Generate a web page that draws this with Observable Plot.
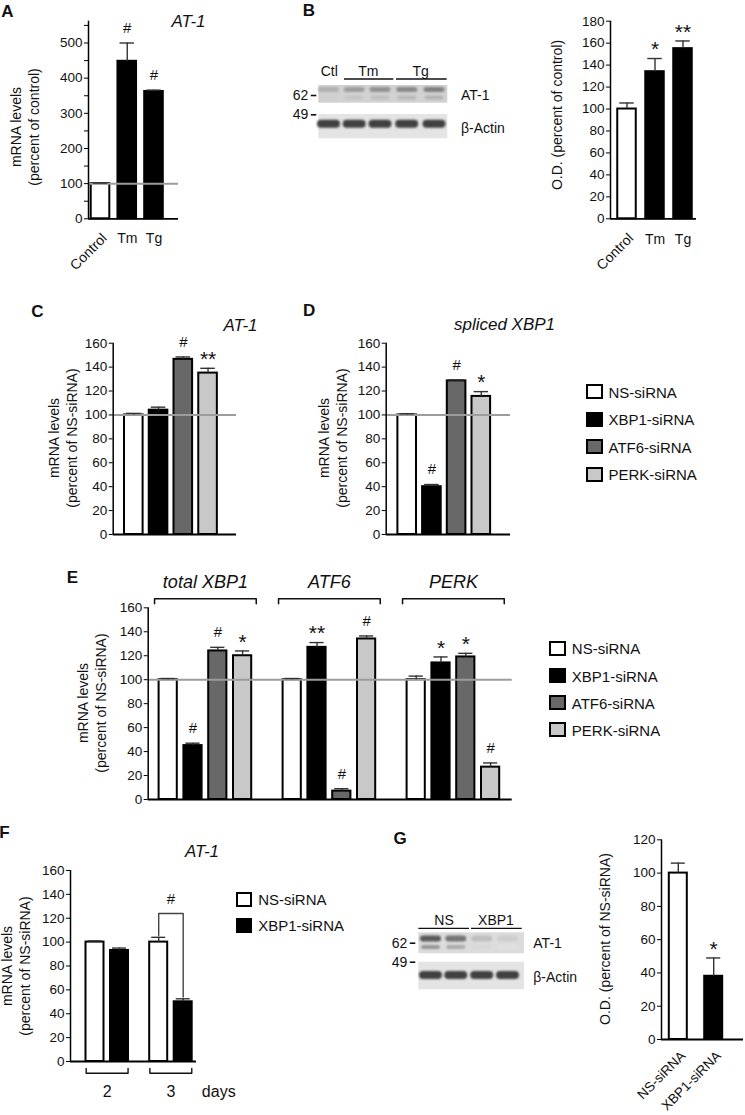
<!DOCTYPE html>
<html><head><meta charset="utf-8">
<script src="https://cdn.jsdelivr.net/npm/d3@7"></script>
<script src="https://cdn.jsdelivr.net/npm/@observablehq/plot@0.6"></script>
<style>
body{margin:0;background:#fff;}
#fig{position:relative;width:745px;height:1115px;overflow:hidden;background:#fff;font-family:"Liberation Sans",Arial,Helvetica,sans-serif;color:#111;}
.t{position:absolute;white-space:nowrap;line-height:1;}
.c{transform:translate(-50%,-50%);}
.yl{position:absolute;white-space:nowrap;text-align:center;font-size:14px;line-height:18px;transform:translate(-50%,-50%) rotate(-90deg);}
.letter{font-weight:bold;font-size:17px;}
.title{font-style:italic;font-size:17px;}
</style></head><body><div id="fig"></div>
<script>
// ================= DATA =================
const treatments = ["Control", "Tm", "Tg"];
const aValues = [100, 448, 362];
const aErrors = [1.5, 52, 4];
const aMarks = ["", "#", "#"];
const aTicks = [0, 50, 100, 150, 200, 250, 300, 350, 400, 450, 500, 550];
const aTickLabels = [0, 100, 200, 300, 400, 500];

const bValues = [100, 134, 155];
const bErrors = [5.5, 12, 7];
const bMarks = ["", "*", "**"];
const bTicks = [0, 20, 40, 60, 80, 100, 120, 140, 160, 180];

const siRNAs = ["NS-siRNA", "XBP1-siRNA", "ATF6-siRNA", "PERK-siRNA"];
const cValues = [100, 104, 146.5, 135];
const cErrors = [1.3, 2.5, 2, 4];
const cMarks = ["", "", "#", "**"];
const dValues = [100, 40, 128.5, 115.5];
const dErrors = [1, 1.8, 0.8, 4];
const dMarks = ["", "#", "#", "*"];
const siTicks = [0, 20, 40, 60, 80, 100, 120, 140, 160];

const eGenes = ["total XBP1", "ATF6", "PERK"];
const eValues = [[100, 45, 124, 120], [100, 127, 7, 134], [100, 114, 119, 27]];
const eErrors = [[1, 2, 3, 4], [1, 4, 2, 2.5], [3, 5, 3, 3.5]];
const eMarks = [["", "#", "#", "*"], ["", "**", "#", "#"], ["", "*", "*", "#"]];

const fDays = ["2", "3"];
const fSeries = ["NS-siRNA", "XBP1-siRNA"];
const fValues = [[100, 93], [100, 50]];
const fErrors = [[1, 2], [4, 2.5]];
const fSigDay = "3";
const fSigMark = "#";

const gCategories = ["NS-siRNA", "XBP1-siRNA"];
const gValues = [100, 38];
const gErrors = [6, 11];
const gMarks = ["", "*"];
const gTicks = [0, 20, 40, 60, 80, 100, 120];

const blotBGroups = ["Ctl", "Tm", "Tg"];
const blotBAT1 = [0.42, 0.48, 0.52, 0.55, 0.58];
const blotBActin = [0.8, 0.8, 0.8, 0.8, 0.8];
const blotGGroups = ["NS", "XBP1"];
const blotGAT1 = [0.72, 0.62, 0.36, 0.3];
const blotGActin = [0.8, 0.8, 0.8, 0.8];
const mwMarkers = ["62", "49"];
const blotProteins = ["AT-1", "β-Actin"];

// ================= STYLES =================
const W = 745, H = 1115;
const FONT = '"Liberation Sans", Arial, Helvetica, sans-serif';
const fillOf = {"NS-siRNA": "#ffffff", "XBP1-siRNA": "#000000", "ATF6-siRNA": "#686868", "PERK-siRNA": "#c8c8c8",
  "Control": "#ffffff", "Tm": "#000000", "Tg": "#000000"};
const fig = document.getElementById("fig");

function html(txt, x, y, cls, style = {}) {
  const d = document.createElement("div");
  d.className = "t " + cls;
  d.style.left = x + "px"; d.style.top = y + "px";
  Object.assign(d.style, style);
  d.innerHTML = txt;
  fig.appendChild(d);
  return d;
}
function yLabel(lines, cx, cy) {
  const d = document.createElement("div");
  d.className = "yl"; d.style.left = cx + "px"; d.style.top = cy + "px";
  d.innerHTML = lines.join("<br>");
  fig.appendChild(d);
}
function legend(items, x, y0, step) {
  items.forEach((name, i) => {
    const cy = y0 + i * step;
    const s = document.createElement("div");
    Object.assign(s.style, {position: "absolute", left: x + "px", top: (cy - 7.5) + "px", width: "16.7px", height: "15px",
      background: fillOf[name], border: "2px solid #000", boxSizing: "border-box"});
    fig.appendChild(s);
    html(name, x + 22.5, cy, "", {fontSize: "15px", transform: "translateY(-50%)"});
  });
}

// generic bar chart drawn in page coordinates
function barChart(g, rows, extra = []) {
  const dmin = (g.axisX - g.first) / g.slot, dmax = (g.axisEnd - g.first) / g.slot;
  const hw = g.barW / g.slot / 2, cw = hw * 0.78;
  const top = g.baseY - g.yMax * g.ppu;
  const hashRows = rows.filter(d => d.mark === "#");
  const starRows = rows.filter(d => d.mark && d.mark !== "#");
  const marks = [
    Plot.rect(rows, {x1: d => d.pos - hw, x2: d => d.pos + hw, y1: 0, y2: "value", fill: "fill", stroke: "#000", strokeWidth: 2}),
    g.ref != null ? Plot.ruleY([g.ref], {x1: dmin, x2: dmax, stroke: "#9c9c9c", strokeWidth: 2}) : null,
    Plot.ruleX(rows, {x: "pos", y1: "value", y2: d => d.value + d.err, stroke: "#333", strokeWidth: 1.4}),
    Plot.ruleY(rows, {y: d => d.value + d.err, x1: d => d.pos - cw, x2: d => d.pos + cw, stroke: "#333", strokeWidth: 1.4}),
    Plot.ruleX([dmin], {y1: 0, y2: g.yMax, stroke: "#000", strokeWidth: 1.5}),
    Plot.ruleY([0], {x1: dmin, x2: dmax, stroke: "#000", strokeWidth: 1.8}),
    Plot.axisY({ticks: g.ticks, tickFormat: d => g.labels.includes(d) ? String(d) : "", tickSize: 4, tickPadding: 2,
      fontSize: 13.5, stroke: "#000", fill: "#111", label: null}),
    Plot.text(hashRows, {x: "pos", y: d => d.value + d.err, text: "mark", dy: -15, fontSize: 15, fill: "#111", lineAnchor: "middle"}),
    Plot.text(starRows, {x: "pos", y: d => d.value + d.err, text: "mark", dy: -9, fontSize: 21, fill: "#111", lineAnchor: "middle"}),
    ...extra
  ].filter(Boolean);
  const svg = Plot.plot({
    width: W, height: H,
    marginLeft: g.axisX, marginRight: W - g.axisEnd, marginTop: top, marginBottom: H - g.baseY,
    x: {type: "linear", domain: [dmin, dmax], axis: null, label: null},
    y: {type: "linear", domain: [0, g.yMax], axis: null, label: null},
    color: {type: "identity"},
    style: {position: "absolute", left: "0px", top: "0px", background: "transparent", overflow: "visible",
      fontFamily: FONT, fontSize: "13.5px", color: "#111"},
    marks
  });
  fig.appendChild(svg);
}

// ================= PANEL A =================
const aRows = treatments.map((t, i) => ({label: t, pos: i, value: aValues[i], err: aErrors[i], mark: aMarks[i], fill: fillOf[t]}));
barChart({axisX: 88, axisEnd: 178, baseY: 218.3, yMax: 562, ppu: 0.3516, first: 100, slot: 26.75, barW: 18.6,
  ticks: aTicks, labels: aTickLabels, ref: 100}, aRows, [
  Plot.text(aRows.slice(0, 1), {x: "pos", y: 0, text: "label", rotate: -45, textAnchor: "end", lineAnchor: "middle", dx: 4, dy: 17, fontSize: 14, fill: "#111"}),
  Plot.text(aRows.slice(1), {x: "pos", y: 0, text: "label", lineAnchor: "middle", dy: 20, fontSize: 14, fill: "#111"})
]);
html("A", 7.5, 11, "letter c");
html("AT-1", 188.5, 20.8, "title c");
yLabel(["mRNA levels", "(percent of control)"], 24.5, 127);

// ================= PANEL B =================
const bRows = treatments.map((t, i) => ({label: t, pos: i, value: bValues[i], err: bErrors[i], mark: bMarks[i], fill: fillOf[t]}));
barChart({axisX: 610, axisEnd: 696, baseY: 218.3, yMax: 180, ppu: 1.0978, first: 626.5, slot: 28, barW: 18.5,
  ticks: bTicks, labels: bTicks, ref: null}, bRows, [
  Plot.text(bRows.slice(0, 1), {x: "pos", y: 0, text: "label", rotate: -45, textAnchor: "end", lineAnchor: "middle", dx: 4, dy: 17, fontSize: 14, fill: "#111"}),
  Plot.text(bRows.slice(1), {x: "pos", y: 0, text: "label", lineAnchor: "middle", dy: 21, fontSize: 14, fill: "#111"})
]);
html("B", 309, 9.5, "letter c");
yLabel(["O.D. (percent of control)"], 556.7, 115);

// ================= PANEL C =================
const cRows = siRNAs.map((s, i) => ({label: s, pos: i, value: cValues[i], err: cErrors[i], mark: cMarks[i], fill: fillOf[s]}));
barChart({axisX: 112.7, axisEnd: 236, baseY: 534, yMax: 160, ppu: 1.1956, first: 133.3, slot: 24.75, barW: 18.6,
  ticks: siTicks, labels: siTicks, ref: 100}, cRows);
html("C", 37.5, 311, "letter c");
html("AT-1", 240.5, 325, "title c");
yLabel(["mRNA levels", "(percent of NS-siRNA)"], 62.5, 438);

// ================= PANEL D =================
const dRows = siRNAs.map((s, i) => ({label: s, pos: i, value: dValues[i], err: dErrors[i], mark: dMarks[i], fill: fillOf[s]}));
barChart({axisX: 385.7, axisEnd: 510, baseY: 534, yMax: 160, ppu: 1.1956, first: 406.7, slot: 24.7, barW: 18.6,
  ticks: siTicks, labels: siTicks, ref: 100}, dRows);
html("D", 309.2, 310, "letter c");
html("spliced XBP1", 504.5, 324, "title c");
yLabel(["mRNA levels", "(percent of NS-siRNA)"], 333.3, 438);
legend(siRNAs, 586, 391.7, 27.5);

// ================= PANEL E =================
const eStep = 5;
const eRows = eGenes.flatMap((gene, gi) => siRNAs.map((s, si) => ({gene, label: s, pos: gi * eStep + si,
  value: eValues[gi][si], err: eErrors[gi][si], mark: eMarks[gi][si], fill: fillOf[s]})));
const eBrackets = eGenes.flatMap((gene, gi) => [
  {gene, x: gi * eStep - 0.55, y: 163.4}, {gene, x: gi * eStep - 0.55, y: 167.6},
  {gene, x: gi * eStep + 3.55, y: 167.6}, {gene, x: gi * eStep + 3.55, y: 163.4}]);
barChart({axisX: 147.7, axisEnd: 511.7, baseY: 799, yMax: 160, ppu: 1.198, first: 167.7, slot: 24.8, barW: 18.2,
  ticks: siTicks, labels: siTicks, ref: 100}, eRows, [
  Plot.line(eBrackets, {x: "x", y: "y", z: "gene", stroke: "#111", strokeWidth: 1.5}),
  Plot.text(eGenes, {x: (d, i) => i * eStep + 1.5, y: 181.4, text: d => d, fontSize: 18, fontStyle: "italic", fill: "#111", lineAnchor: "middle"})
]);
html("E", 72.5, 576.7, "letter c");
yLabel(["mRNA levels", "(percent of NS-siRNA)"], 91.5, 703);
legend(siRNAs, 549.3, 648.3, 27.2);

// ================= PANEL F =================
const fStep = 2.6;
const fRows = fDays.flatMap((day, di) => fSeries.map((s, si) => ({day, label: s, pos: di * fStep + si,
  value: fValues[di][si], err: fErrors[di][si], mark: "", fill: fillOf[s]})));
const sigRows = fRows.filter(d => d.day === fSigDay);
const sigTop = d3.max(sigRows, d => d.value + d.err) + 20;
const sigLine = [
  {x: sigRows[0].pos, y: sigRows[0].value + sigRows[0].err + 1.5}, {x: sigRows[0].pos, y: sigTop},
  {x: sigRows[1].pos, y: sigTop}, {x: sigRows[1].pos, y: sigRows[1].value + sigRows[1].err + 1.5}];
const dayBrackets = fDays.flatMap((day, di) => [
  {day, x: di * fStep - 0.36, y: -5.9}, {day, x: di * fStep - 0.36, y: -9.8},
  {day, x: di * fStep + 1.35, y: -9.8}, {day, x: di * fStep + 1.35, y: -5.9}]);
barChart({axisX: 70, axisEnd: 196, baseY: 1061, yMax: 160, ppu: 1.194, first: 94.5, slot: 24.5, barW: 18,
  ticks: siTicks, labels: siTicks, ref: null}, fRows, [
  Plot.line(sigLine, {x: "x", y: "y", stroke: "#444", strokeWidth: 1.4}),
  Plot.text([fSigMark], {x: (sigRows[0].pos + sigRows[1].pos) / 2, y: sigTop, text: d => d, dy: -14, fontSize: 15, fill: "#111", lineAnchor: "middle"}),
  Plot.line(dayBrackets, {x: "x", y: "y", z: "day", stroke: "#111", strokeWidth: 1.4}),
  Plot.text(fDays, {x: (d, i) => i * fStep + 0.5, y: -25.7, text: d => d, fontSize: 16, fill: "#111", lineAnchor: "middle"}),
  Plot.text(["days"], {x: 5.05, y: -25.7, text: d => d, fontSize: 16, fill: "#111", lineAnchor: "middle"})
]);
html("F", 4.5, 832, "letter c");
html("AT-1", 202, 850.8, "title c");
yLabel(["mRNA levels", "(percent of NS-siRNA)"], 15.8, 966);
legend(fSeries, 235.7, 899, 26);

// ================= PANEL G =================
const gRows = gCategories.map((s, i) => ({label: s, pos: i, value: gValues[i], err: gErrors[i], mark: gMarks[i], fill: fillOf[s]}));
barChart({axisX: 661, axisEnd: 743, baseY: 1039, yMax: 120, ppu: 1.664, first: 677.8, slot: 35.4, barW: 18,
  ticks: gTicks, labels: gTicks, ref: null}, gRows, [
  Plot.text(gRows, {x: "pos", y: 0, text: "label", rotate: -45, textAnchor: "end", lineAnchor: "middle", dx: 5, dy: 14, fontSize: 13.5, fill: "#111"})
]);
html("G", 400, 837.5, "letter c");
yLabel(["O.D. (percent of NS-siRNA)"], 605, 939);

// ================= WESTERN BLOTS =================
const bs = d3.create("svg").attr("width", W).attr("height", H)
  .style("position", "absolute").style("left", "0px").style("top", "0px").style("font-family", FONT);
const defs = bs.append("defs");
defs.append("filter").attr("id", "blur").attr("x", "-20%").attr("y", "-50%").attr("width", "140%").attr("height", "200%")
  .append("feGaussianBlur").attr("stdDeviation", 1.1);

function drawBlot(cfg) {
  const {x0, x1, lanes, at1Box, actBox, at1, actin, laneW} = cfg;
  bs.append("rect").attr("x", x0).attr("y", at1Box[0]).attr("width", x1 - x0).attr("height", at1Box[1] - at1Box[0]).attr("fill", cfg.at1Bg);
  bs.append("rect").attr("x", x0).attr("y", actBox[0]).attr("width", x1 - x0).attr("height", actBox[1] - actBox[0]).attr("fill", "#e4e4e4");
  lanes.forEach((cx, i) => {
    bs.append("rect").attr("x", cx - laneW / 2).attr("y", cfg.at1Y - cfg.at1H / 2).attr("width", laneW).attr("height", cfg.at1H)
      .attr("rx", 3).attr("fill", d3.interpolateGreys(at1[i])).attr("filter", "url(#blur)");
    bs.append("rect").attr("x", cx - laneW / 2 + 1).attr("y", cfg.at1Y2 - 2).attr("width", laneW - 2).attr("height", 4)
      .attr("rx", 2).attr("fill", d3.interpolateGreys(at1[i] * 0.7)).attr("filter", "url(#blur)");
    bs.append("rect").attr("x", cx - laneW / 2 - 1).attr("y", cfg.actY - 4).attr("width", laneW + 2).attr("height", 8)
      .attr("rx", 4).attr("fill", d3.interpolateGreys(actin[i])).attr("filter", "url(#blur)");
  });
  cfg.groups.forEach(gr => {
    bs.append("text").attr("x", gr.cx).attr("y", cfg.labY).attr("text-anchor", "middle").attr("dy", "0.35em")
      .attr("font-size", 14).attr("fill", "#111").text(gr.name);
    if (gr.line) bs.append("line").attr("x1", gr.line[0]).attr("x2", gr.line[1]).attr("y1", cfg.lineY).attr("y2", cfg.lineY)
      .attr("stroke", "#111").attr("stroke-width", 1.3);
  });
  mwMarkers.forEach((m, i) => {
    const y = cfg.mwY[i];
    bs.append("text").attr("x", cfg.mwX).attr("y", y).attr("text-anchor", "end").attr("dy", "0.35em")
      .attr("font-size", 14).attr("fill", "#111").text(m);
    bs.append("line").attr("x1", cfg.mwX + 2.5).attr("x2", cfg.mwX + 8).attr("y1", y + 0.5).attr("y2", y + 0.5)
      .attr("stroke", "#111").attr("stroke-width", 1.6);
  });
  blotProteins.forEach((p, i) => {
    bs.append("text").attr("x", cfg.protX).attr("y", cfg.protY[i]).attr("dy", "0.35em")
      .attr("font-size", 14).attr("fill", "#111").text(p);
  });
}

drawBlot({x0: 318.3, x1: 447.3, lanes: [328.5, 354.2, 380, 406.7, 434], laneW: 21,
  at1Box: [85, 102.7], actBox: [114, 138.3], at1Bg: "#d2d2d2", at1: blotBAT1, actin: blotBActin,
  at1Y: 89.6, at1H: 5, at1Y2: 97.5, actY: 123.8,
  groups: [{name: blotBGroups[0], cx: 329.3}, {name: blotBGroups[1], cx: 368.3, line: [344, 393.3]}, {name: blotBGroups[2], cx: 420.7, line: [396, 446.7]}],
  labY: 71, lineY: 79, mwX: 308.3, mwY: [95, 114.3], protX: 461, protY: [95, 128.3]});

drawBlot({x0: 418.3, x1: 524, lanes: [430.5, 455.8, 481.7, 507.5], laneW: 21,
  at1Box: [932.3, 953.3], actBox: [961.7, 989.3], at1Bg: "#dcdcdc", at1: blotGAT1, actin: blotGActin,
  at1Y: 938.5, at1H: 6, at1Y2: 947, actY: 975,
  groups: [{name: blotGGroups[0], cx: 444, line: [418.3, 469]}, {name: blotGGroups[1], cx: 496, line: [471, 521.7]}],
  labY: 920, lineY: 928.3, mwX: 407.3, mwY: [942.7, 961.7], protX: 533.3, protY: [942.7, 976.7]});

fig.appendChild(bs.node());
</script></body></html>
